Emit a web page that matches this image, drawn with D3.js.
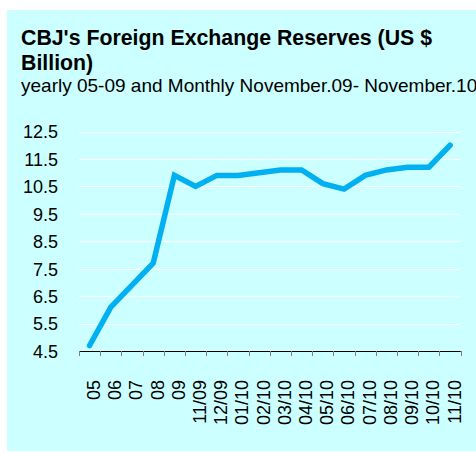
<!DOCTYPE html>
<html>
<head>
<meta charset="utf-8">
<script src="https://cdn.jsdelivr.net/npm/d3@7"></script>
<style>
  html, body { margin: 0; padding: 0; background: #ffffff; }
  svg { display: block; }
  text { font-family: Arial, "Liberation Sans", sans-serif; fill: #000; }
</style>
</head>
<body>
<svg id="chart" width="476" height="452"></svg>
<script>
const categories = ["05","06","07","08","09","11/09","12/09","01/10","02/10","03/10","04/10","05/10","06/10","07/10","08/10","09/10","10/10","11/10"];
const reserves = [4.7, 6.1, 6.9, 7.7, 10.9, 10.5, 10.9, 10.9, 11.0, 11.1, 11.1, 10.6, 10.4, 10.9, 11.1, 11.2, 11.2, 12.0];
const yTicks = [4.5, 5.5, 6.5, 7.5, 8.5, 9.5, 10.5, 11.5, 12.5];
const titleLines = ["CBJ's Foreign Exchange Reserves (US $", "Billion)"];
const subtitle = "yearly 05-09 and Monthly November.09- November.10";

const svg = d3.select("#chart");

svg.append("rect")
  .attr("x", 7).attr("y", 10)
  .attr("width", 469).attr("height", 441)
  .attr("fill", "#ccffff");

// titles
svg.append("text").attr("x", 21).attr("y", 45)
  .style("font-size", "21.3px").style("font-weight", "bold")
  .text(titleLines[0]);
svg.append("text").attr("x", 21).attr("y", 70)
  .style("font-size", "21.3px").style("font-weight", "bold")
  .text(titleLines[1]);
svg.append("text").attr("x", 21).attr("y", 92)
  .style("font-size", "19px")
  .text(subtitle);

const x = d3.scaleBand().domain(categories).range([79, 460.7]).padding(0);
const y = d3.scaleLinear().domain([4.5, 12.5]).range([351, 131.5]);

// gridlines
svg.append("g").selectAll("line")
  .data(yTicks.filter(d => d > 4.5))
  .join("line")
  .attr("x1", 79).attr("x2", 460.7)
  .attr("y1", d => Math.round(y(d)) + 0.5).attr("y2", d => Math.round(y(d)) + 0.5)
  .attr("stroke", "#ffffff").attr("stroke-width", 1);

// y axis labels
const yAxis = d3.axisLeft(y).tickValues(yTicks).tickSize(0).tickPadding(0).tickFormat(d3.format(".1f"));
const gy = svg.append("g").attr("transform", "translate(58,0)").call(yAxis);
gy.select(".domain").remove();
gy.selectAll("text").style("font-size", "18px").attr("font-family", null).attr("x", 0).attr("dy", "0.35em");

// x axis
const tickPos = categories.map(c => x(c)).concat([x.range()[1]]);
const gx = svg.append("g");
gx.append("line")
  .attr("x1", 79).attr("x2", 460.7)
  .attr("y1", 351.5).attr("y2", 351.5)
  .attr("stroke", "#000").attr("stroke-width", 1);
gx.selectAll("line.tick")
  .data(tickPos)
  .join("line").attr("class", "tick")
  .attr("x1", d => Math.round(d) + 0.5).attr("x2", d => Math.round(d) + 0.5)
  .attr("y1", 351).attr("y2", 356)
  .attr("stroke", "#808080").attr("stroke-width", 1);
gx.selectAll("text")
  .data(categories)
  .join("text")
  .attr("transform", d => `translate(${x(d) + x.bandwidth() / 2},380) rotate(-90)`)
  .attr("text-anchor", "end")
  .attr("dy", "10.4px")
  .style("font-size", "18px")
  .text(d => d);

// line
const line = d3.line()
  .x((d, i) => x(categories[i]) + x.bandwidth() / 2)
  .y(d => y(d));
svg.append("path")
  .datum(reserves)
  .attr("d", line)
  .attr("fill", "none")
  .attr("stroke", "#00b0f0")
  .attr("stroke-width", 5.5)
  .attr("stroke-linecap", "round")
  .attr("stroke-linejoin", "miter");
</script>
</body>
</html>
